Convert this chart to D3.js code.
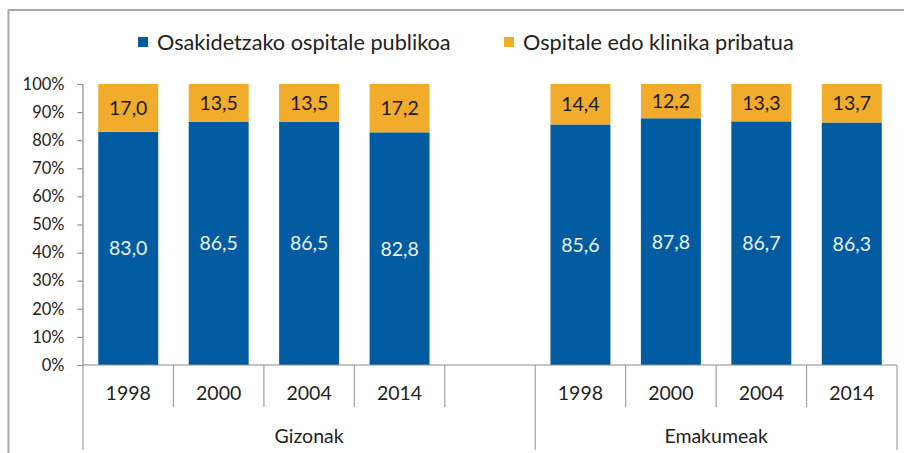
<!DOCTYPE html>
<html>
<head>
<meta charset="utf-8">
<script src="https://cdn.jsdelivr.net/npm/d3@7"></script>
<style>
  body { margin: 0; background: #fff; }
  svg text { font-family: Lato, "Open Sans", sans-serif; }
</style>
</head>
<body>
<div id="chart"></div>
<script>
// data
const groups = ["Gizonak", "Emakumeak"]
const years = ["1998", "2000", "2004", "2014"]
const seriesNames = ["Osakidetzako ospitale publikoa", "Ospitale edo klinika pribatua"]
const publicVals = [83.0, 86.5, 86.5, 82.8, 85.6, 87.8, 86.7, 86.3]
const privateVals = [17.0, 13.5, 13.5, 17.2, 14.4, 12.2, 13.3, 13.7]
const yTicks = [0, 10, 20, 30, 40, 50, 60, 70, 80, 90, 100]

const colors = ["#005ba1", "#f1ac2c"]

// const
const width = 904
const height = 453
const margin = { top: 84, bottom: 88, left: 83, right: 7 }

const svg = d3.select("#chart")
    .append("svg")
      .attr("width", width)
      .attr("height", height)

// outer frame (cut off on the right and bottom like the picture)
svg.append("rect")
    .attr("x", 8.5).attr("y", 10)
    .attr("width", 920).attr("height", 470)
    .attr("fill", "none")
    .attr("stroke", "#a9a9a9")
    .attr("stroke-width", 2)

// slots: years per group, with an empty slot closing the first group
const slots = []
groups.forEach((g, gi) => {
    years.forEach(y => slots.push(g + "|" + y))
    if (gi < groups.length - 1) slots.push(g + "|gap")
})

const rows = []
let k = 0
slots.forEach(s => {
    const [g, y] = s.split("|")
    if (y === "gap") return
    rows.push({ slot: s, group: g, year: y, pub: publicVals[k], priv: privateVals[k] })
    k++
})

const x = d3.scaleBand()
    .domain(slots)
    .range([margin.left, width - margin.right])
    .paddingInner(0.337)
    .paddingOuter(0.1685)

const y = d3.scaleLinear()
    .domain([0, 100])
    .range([height - margin.bottom, margin.top])

// y axis
const yAxisGroup = svg.append("g")
    .attr("transform", `translate(${margin.left - 0.5},0)`)
    .call(d3.axisLeft(y).tickValues(yTicks).tickSize(5).tickPadding(13).tickFormat(d => d + "%"))
yAxisGroup.selectAll("path, line").attr("stroke", "#8c8c8c").attr("stroke-width", 1.2)
yAxisGroup.selectAll("text").style("font-size", "16.5px").style("fill", "#222")

// bars
const stack = d3.stack().keys(["pub", "priv"])(rows)

svg.append("g").selectAll("g")
    .data(stack)
    .join("g")
      .attr("fill", (d, i) => colors[i])
    .selectAll("rect")
    .data(d => d)
    .join("rect")
      .attr("x", d => x(d.data.slot))
      .attr("width", x.bandwidth())
      .attr("y", d => y(d[1]))
      .attr("height", d => y(d[0]) - y(d[1]))

// value labels
stack.forEach((layer, i) => {
    svg.append("g").selectAll("text")
        .data(layer)
        .join("text")
          .attr("x", d => x(d.data.slot) + x.bandwidth() / 2)
          .attr("y", d => (y(d[0]) + y(d[1])) / 2)
          .attr("dy", "0.36em")
          .attr("text-anchor", "middle")
          .style("font-size", "19.5px")
          .style("fill", i === 0 ? "#eef3f8" : "#1a1a1a")
          .text(d => d3.format(".1f")(d[1] - d[0]).replace(".", ","))
})

// x axis with two level category labels
const base = y(0)
const step = x.step()
const x0 = margin.left
const xAxisGroup = svg.append("g")
xAxisGroup.append("line")
    .attr("x1", x0).attr("x2", x0 + step * slots.length)
    .attr("y1", base).attr("y2", base)
    .attr("stroke", "#8c8c8c").attr("stroke-width", 1.2)

const groupEdges = [0]
slots.forEach((s, i) => { if (s.endsWith("gap") || i === slots.length - 1) groupEdges.push(i + 1) })

d3.range(slots.length + 1).forEach(i => {
    const long = groupEdges.includes(i)
    xAxisGroup.append("line")
        .attr("x1", x0 + step * i).attr("x2", x0 + step * i)
        .attr("y1", base).attr("y2", long ? 450 : 407)
        .attr("stroke", "#a0a0a0").attr("stroke-width", 1.2)
})

xAxisGroup.selectAll("text.year")
    .data(rows)
    .join("text")
      .attr("class", "year")
      .attr("x", d => x(d.slot) + x.bandwidth() / 2)
      .attr("y", 393)
      .attr("dy", "0.36em")
      .attr("text-anchor", "middle")
      .style("font-size", "19.5px")
      .style("fill", "#222")
      .text(d => d.year)

xAxisGroup.selectAll("text.group")
    .data(groups)
    .join("text")
      .attr("class", "group")
      .attr("x", (g, gi) => x0 + step * (groupEdges[gi] + groupEdges[gi + 1]) / 2)
      .attr("y", 436)
      .attr("dy", "0.36em")
      .attr("text-anchor", "middle")
      .style("font-size", "19.5px")
      .style("fill", "#222")
      .text(d => d)

// legend
const legendX = [138, 504]
const legend = svg.append("g")
seriesNames.forEach((name, i) => {
    legend.append("rect")
        .attr("x", legendX[i]).attr("y", 37)
        .attr("width", 10).attr("height", 10)
        .attr("fill", colors[i])
    legend.append("text")
        .attr("x", legendX[i] + 19).attr("y", 42)
        .attr("dy", "0.36em")
        .style("font-size", "21.7px")
        .style("fill", "#222")
        .text(name)
})
</script>
</body>
</html>
